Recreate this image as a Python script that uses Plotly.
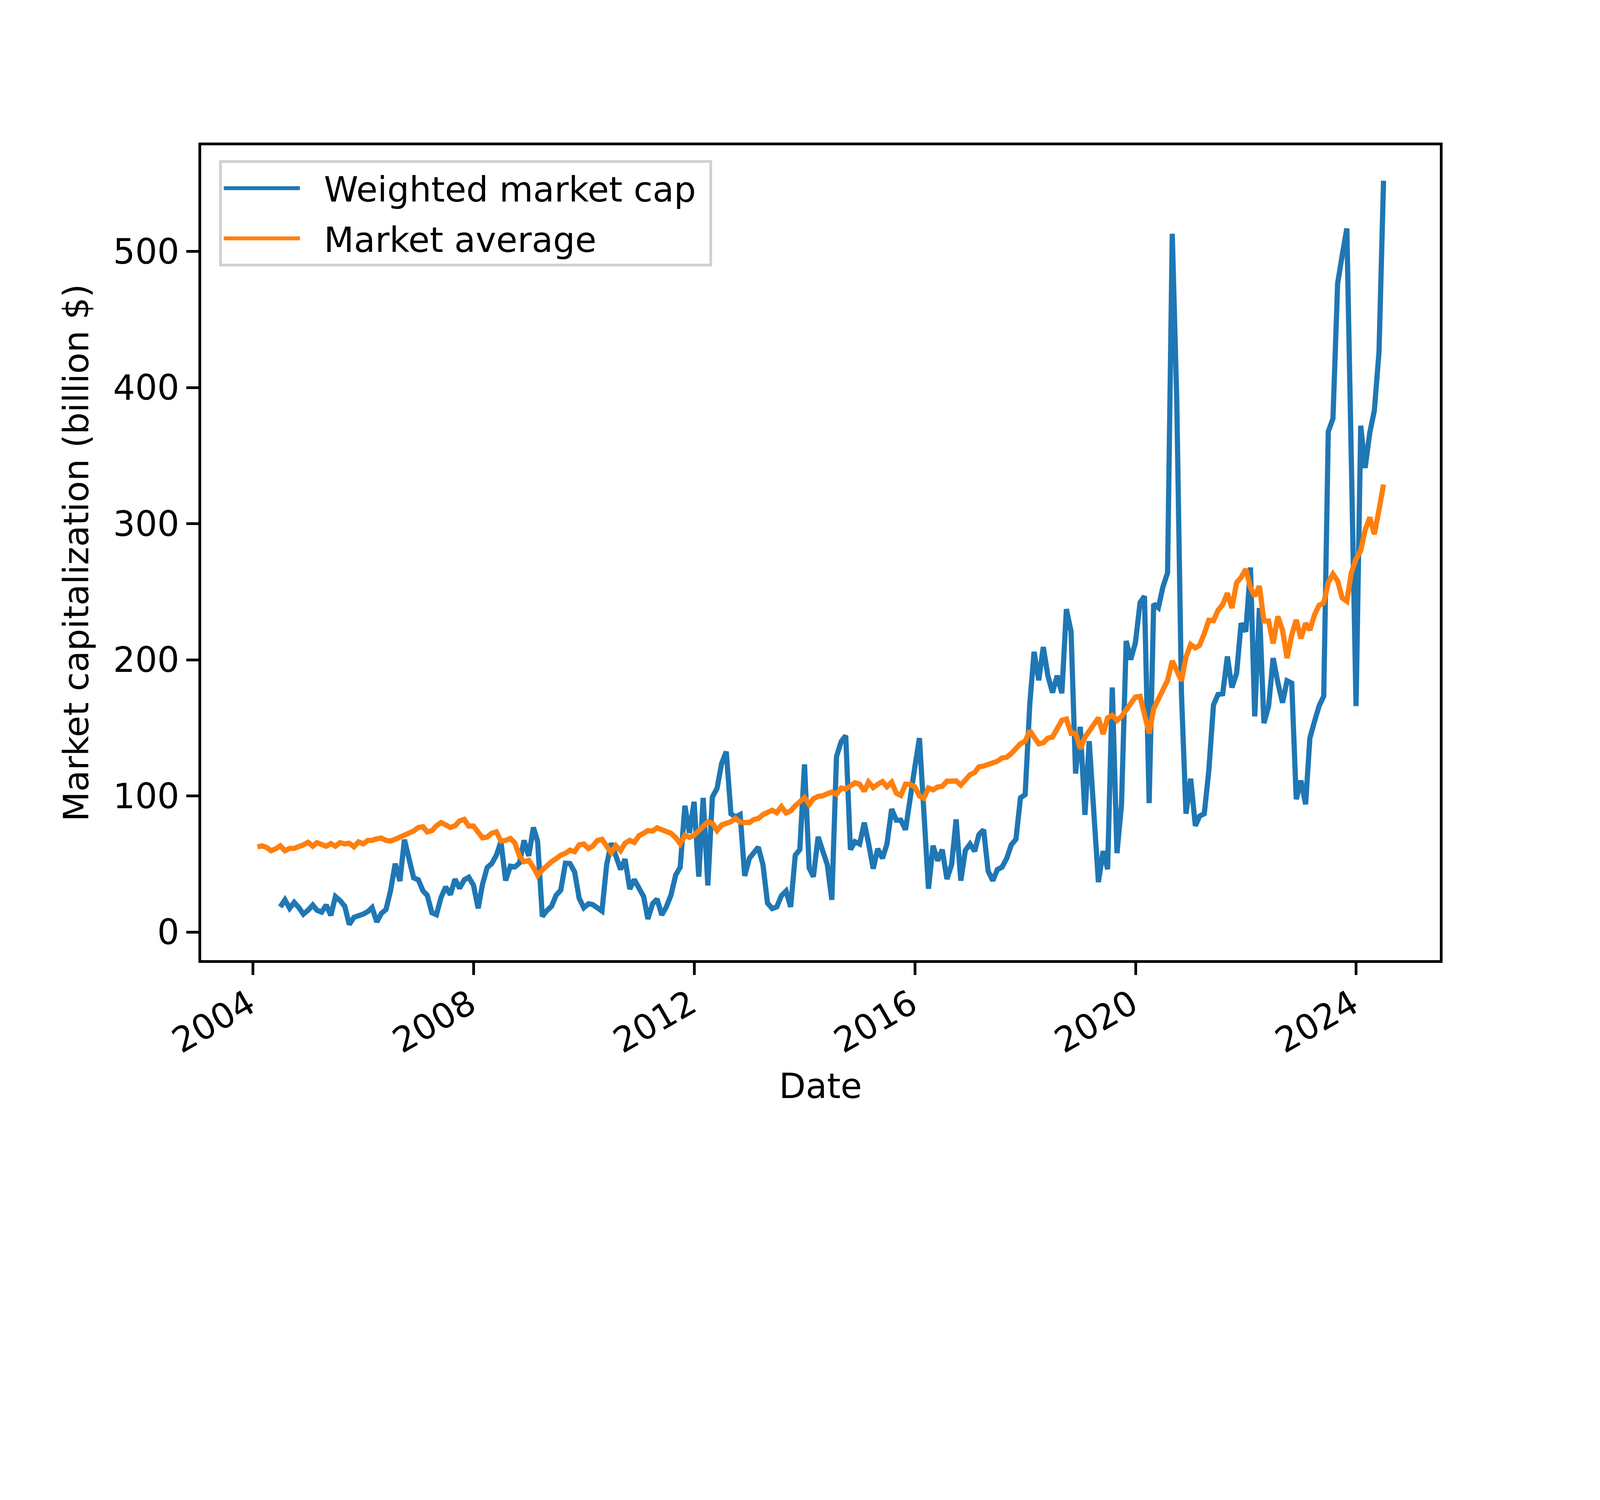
import pandas as pd
import plotly.graph_objects as go

# Monthly observations, Jan 2004 .. Jun 2024 (month end)
start_month = "2004-01-31"
n_months = 246
blue_offset = 5  # weighted market cap series starts in Jun 2004

market_average = [
    62.5, 63.4, 62.2, 59.8, 61.2, 63.4, 59.8, 61.5, 61.5, 62.5, 64.1, 66.0,
    63.1, 65.7, 64.4, 63.1, 65.0, 63.1, 65.7, 64.8, 65.3, 62.7, 66.3, 64.8,
    67.4, 67.4, 68.6, 69.1, 67.4, 66.9, 68.2, 69.6, 71.7, 73.1, 74.3, 76.9,
    77.4, 73.6, 74.5, 78.1, 80.5, 78.8, 76.9, 78.1, 81.7, 82.8, 77.9, 77.9,
    73.1, 69.3, 69.8, 72.6, 73.6, 66.9, 67.4, 68.8, 65.5, 55.8, 51.7, 52.7,
    47.5, 41.7, 45.6, 48.9, 51.7, 53.9, 56.5, 57.9, 60.2, 59.1, 64.1, 64.7,
    61.4, 63.2, 67.3, 68.2, 62.9, 58.3, 63.5, 59.8, 65.3, 67.4, 65.9, 70.8,
    72.6, 74.6, 74.3, 76.6, 75.2, 74.1, 72.6, 69.4, 64.9, 71.1, 69.6, 71.1,
    74.1, 77.0, 81.1, 80.1, 74.6, 78.7, 79.7, 81.1, 83.6, 80.8, 80.5, 80.5,
    82.8, 83.4, 86.3, 87.9, 89.5, 87.7, 92.2, 87.5, 89.0, 92.8, 96.3, 98.9,
    93.7, 98.0, 99.7, 100.1, 101.7, 102.9, 101.3, 105.9, 105.1, 107.1, 109.7, 108.6,
    103.5, 110.3, 106.2, 108.6, 110.6, 106.8, 110.1, 102.1, 100.4, 108.6, 108.6, 106.8,
    100.0, 98.4, 105.9, 104.5, 106.6, 107.1, 110.9, 110.9, 111.1, 108.0, 111.5, 115.6,
    117.3, 121.4, 122.0, 123.2, 125.0, 125.5, 127.9, 128.5, 131.2, 134.9, 138.4, 140.2,
    148.0, 143.3, 138.3, 139.1, 142.5, 143.3, 149.6, 155.6, 156.5, 146.0, 146.0, 134.6,
    143.2, 148.0, 151.7, 157.4, 145.5, 157.4, 159.3, 155.5, 158.4, 163.1, 167.9, 172.7,
    173.2, 158.4, 146.0, 164.1, 171.7, 177.4, 185.0, 199.3, 191.7, 184.6, 202.1, 211.3,
    208.8, 210.7, 219.3, 229.1, 228.8, 236.4, 240.6, 249.0, 238.1, 256.7, 260.5, 266.7,
    253.0, 246.8, 254.2, 228.6, 228.6, 212.0, 231.9, 221.9, 201.3, 218.2, 229.4, 215.7,
    226.9, 221.9, 233.1, 240.1, 241.8, 256.7, 263.0, 258.0, 245.5, 243.1, 264.2, 274.1,
    280.4, 295.3, 304.7, 292.3, 310.2, 328.8,
]

weighted_market_cap = [
    18.5, 23.7, 17.5, 21.8, 18.0, 13.2, 16.1,
    19.9, 16.1, 14.7, 19.9, 12.3, 26.1, 23.2, 18.9, 5.6, 10.9, 11.8, 13.2,
    15.1, 18.0, 7.5, 13.7, 16.6, 30.3, 50.3, 37.5, 67.9, 51.3, 39.9, 38.4,
    30.3, 27.0, 14.2, 12.8, 25.6, 33.2, 27.5, 38.9, 32.2, 38.4, 40.3, 34.6,
    17.5, 35.1, 47.5, 50.3, 56.5, 66.5, 37.9, 48.4, 47.9, 50.8, 67.4, 56.0,
    76.9, 66.5, 11.5, 15.8, 19.0, 27.0, 30.8, 50.6, 50.4, 44.2, 24.9, 17.9,
    20.8, 20.2, 17.3, 15.5, 49.5, 65.3, 56.0, 46.0, 53.6, 31.7, 38.6, 32.5,
    26.1, 9.7, 20.8, 24.3, 12.6, 18.5, 27.2, 41.9, 47.7, 92.8, 72.9, 95.7,
    40.7, 98.6, 34.3, 99.2, 105.6, 123.8, 132.6, 86.9, 84.6, 86.3, 41.3, 54.2,
    59.4, 62.4, 49.5, 21.4, 17.3, 18.5, 26.7, 30.2, 18.5, 56.5, 60.6, 123.2,
    47.1, 40.7, 70.0, 59.4, 49.5, 23.7, 129.0, 140.0, 144.3, 60.6, 66.4, 64.7,
    80.4, 65.3, 46.6, 61.2, 54.2, 64.7, 90.4, 82.2, 82.2, 75.2, 95.1, 120.9,
    142.5, 92.0, 31.9, 63.5, 52.4, 60.6, 39.0, 49.5, 82.8, 37.8, 60.0, 64.7,
    59.4, 71.7, 75.2, 44.8, 37.8, 46.0, 47.7, 54.2, 64.1, 68.2, 98.6, 101.0,
    168.0, 205.9, 185.0, 209.4, 188.0, 176.0, 188.4, 175.5, 237.3, 220.8, 116.5, 150.8,
    86.1, 140.3, 83.3, 36.7, 59.5, 46.2, 179.7, 58.0, 93.7, 213.9, 200.2, 212.6,
    242.1, 246.8, 94.7, 241.1, 238.3, 253.5, 264.0, 513.0, 390.0, 175.0, 87.0, 112.7,
    78.1, 85.2, 87.0, 118.5, 166.9, 174.6, 175.1, 202.5, 179.7, 190.0, 226.9, 220.7,
    267.9, 158.5, 238.1, 153.5, 166.0, 201.3, 183.4, 168.5, 184.6, 182.9, 97.6, 111.3,
    93.9, 142.4, 154.8, 166.0, 173.4, 367.7, 377.2, 476.6, 497.0, 516.9, 345.0, 166.0,
    372.0, 341.0, 367.0, 383.0, 426.2, 552.0,
]

series_names = ["Weighted market cap", "Market average"]
year_ticks = ["2004", "2008", "2012", "2016", "2020", "2024"]
value_ticks = [0, 100, 200, 300, 400, 500]

dates = pd.date_range(start_month, periods=n_months, freq="ME")
blue_dates = dates[blue_offset:blue_offset + len(weighted_market_cap)]

# page is shown at a 1.25 device-pixel ratio: 4096x3072 CSS px -> 5120x3840
W, H = 4096, 3072
BODY = 8  # default page margin of the html body
PT = 800 / 72.0 / 1.25  # css px per point
FONT = "DejaVu Sans"
fs = 10 * PT
lw = 1.5 * PT
spine = 0.8 * PT
NB = "\u00a0\u00a0"

fig = go.Figure()
fig.add_trace(go.Scatter(x=blue_dates, y=weighted_market_cap, mode="lines",
                         name=NB + series_names[0] + "\u00a0", legendgroup="a",
                         line=dict(color="#1f77b4", width=lw)))
fig.add_trace(go.Scatter(x=dates, y=market_average, mode="lines",
                         name=NB + series_names[1], legendgroup="b",
                         line=dict(color="#ff7f0e", width=lw)))

span = dates[-1] - dates[0]
xr = [dates[0] - 0.05 * span, dates[-1] + 0.05 * span]

axis_common = dict(
    showline=True, linecolor="black", linewidth=spine, mirror=True,
    ticks="outside", ticklen=3.5 * PT, tickwidth=spine, tickcolor="black",
    showgrid=False, zeroline=False,
    tickfont=dict(family=FONT, size=fs, color="black"),
)

fig.update_layout(
    width=W - BODY, height=H - BODY, autosize=False,
    margin=dict(l=0.125 * W - 5, r=0.1 * W, t=0.12 * H - 5, b=0.2 * H, pad=0),
    paper_bgcolor="white", plot_bgcolor="white",
    font=dict(family=FONT, size=fs, color="black"),
    xaxis=dict(
        type="date", range=xr,
        tickvals=[f"{y}-01-01" for y in year_ticks], ticktext=year_ticks,
        tickangle=-30, ticklabelshift=-10, ticklabelstandoff=-12,
        title=dict(text="Date", font=dict(family=FONT, size=fs), standoff=36),
        **axis_common,
    ),
    yaxis=dict(
        range=[-20.6, 578], tickvals=value_ticks,
        ticktext=[str(v) for v in value_ticks],
        title=dict(text="Market capitalization (billion $)",
                   font=dict(family=FONT, size=fs), standoff=36),
        **axis_common,
    ),
    legend=dict(
        x=0.0144, y=0.9816, xanchor="left", yanchor="top",
        bgcolor="rgba(255,255,255,0.8)", bordercolor="#d0d0d0",
        borderwidth=spine, font=dict(family=FONT, size=fs, color="black"),
        itemwidth=195, traceorder="grouped", tracegroupgap=10,
    ),
    showlegend=True,
)

fig.write_html("out.html")
